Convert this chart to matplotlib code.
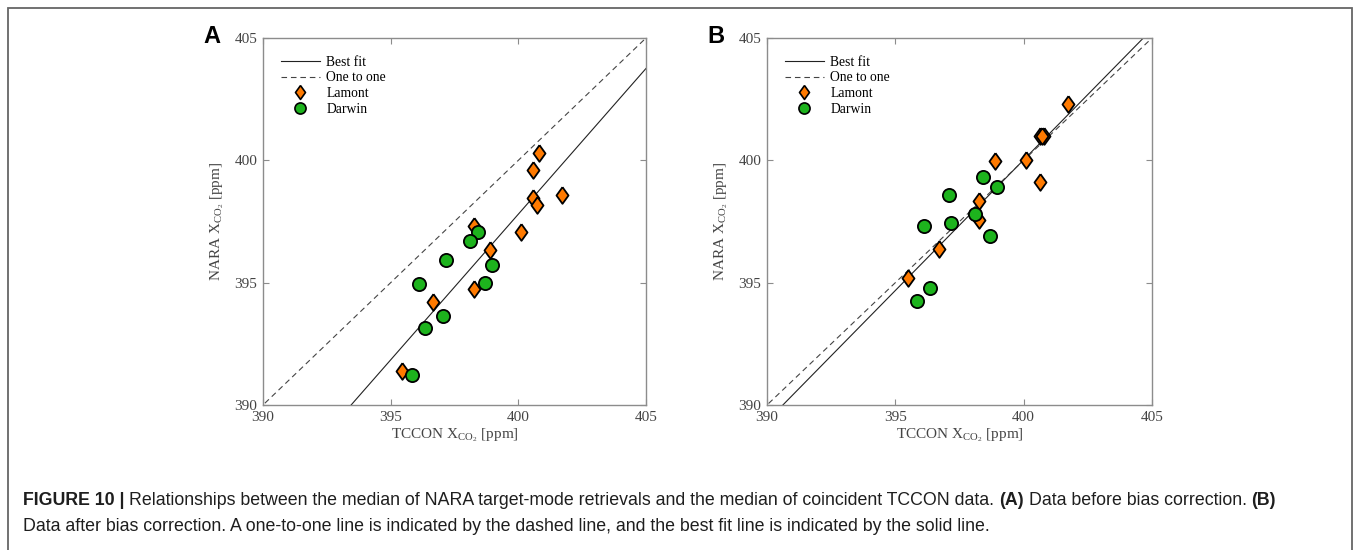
import numpy as np
import matplotlib
matplotlib.use("Agg")
import matplotlib.pyplot as plt
from matplotlib.patches import Rectangle
from matplotlib.lines import Line2D

# values (ppm)
lamont_a_x = [400.56, 400.80, 400.59, 400.72, 401.72, 398.26, 400.10, 398.88, 398.25, 396.66, 395.46]
lamont_a_y = [399.59, 400.30, 398.48, 398.17, 398.59, 397.30, 397.09, 396.33, 394.74, 394.21, 391.37]
darwin_a_x = [398.42, 398.11, 397.17, 398.97, 396.10, 398.69, 397.06, 396.36, 395.82]
darwin_a_y = [397.08, 396.69, 395.93, 395.72, 394.93, 394.97, 393.65, 393.13, 391.22]

lamont_b_x = [401.72, 400.62, 400.78, 398.90, 400.11, 400.62, 398.25, 398.25, 396.69, 395.49, 400.70]
lamont_b_y = [402.32, 400.99, 400.99, 399.99, 400.00, 399.13, 398.32, 397.55, 396.37, 395.19, 401.00]
darwin_b_x = [398.43, 398.96, 397.08, 398.12, 396.10, 397.15, 398.69, 396.36, 395.83]
darwin_b_y = [399.33, 398.91, 398.59, 397.80, 397.32, 397.44, 396.89, 394.77, 394.25]

# best fit lines (slope, intercept)
fit_a = (1.191, -78.60)
fit_b = (1.068, -27.18)

ticks = [390, 395, 400, 405]
legend_labels = ["Best fit", "One to one", "Lamont", "Darwin"]

plt.rcParams["mathtext.fontset"] = "custom"
plt.rcParams["mathtext.rm"] = "Liberation Serif"
plt.rcParams["mathtext.it"] = "Liberation Serif:italic"

serif = "Liberation Serif"
orange = "#ff7a00"
green = "#1db31d"
spine_col = "#8c8c8c"
tick_col = "#444444"
diamond = [(0, 1), (0.72, 0), (0, -1), (-0.72, 0), (0, 1)]

fig = plt.figure(figsize=(13.54, 5.5), dpi=100)

W, H = 1354, 550
panels = [
    ("A", 263, 646, lamont_a_x, lamont_a_y, darwin_a_x, darwin_a_y, fit_a),
    ("B", 767, 1152, lamont_b_x, lamont_b_y, darwin_b_x, darwin_b_y, fit_b),
]
for letter, x0, x1, lx, ly, dx, dy, fit in panels:
    ax = fig.add_axes([x0 / W, 1 - 405 / H, (x1 - x0) / W, (405 - 38) / H])
    xs = np.array([385, 410])
    ax.plot(xs, fit[0] * xs + fit[1], color="#222222", lw=0.8)
    ax.plot(xs, xs, color="#444444", lw=0.8, ls=(0, (5, 3.5)))
    ax.plot(lx, ly, ls="none", marker=diamond, ms=12, mfc=orange, mec="black", mew=1.3)
    ax.plot(dx, dy, ls="none", marker="o", ms=9.5, mfc=green, mec="black", mew=1.3)
    ax.set_xlim(390, 405)
    ax.set_ylim(390, 405)
    ax.set_xticks(ticks)
    ax.set_yticks(ticks)
    ax.tick_params(direction="in", top=True, right=True, length=4, width=0.8,
                   color=spine_col, labelcolor=tick_col, labelsize=11, pad=4)
    for lab in ax.get_xticklabels() + ax.get_yticklabels():
        lab.set_fontfamily(serif)
    for s in ax.spines.values():
        s.set_color(spine_col)
        s.set_linewidth(1.0)
    ax.set_xlabel(r"TCCON X$_{\mathrm{CO}_{\mathrm{2}}}$ [ppm]", fontfamily=serif,
                  fontsize=11, color=tick_col, labelpad=2)
    ax.set_ylabel(r"NARA X$_{\mathrm{CO}_{\mathrm{2}}}$ [ppm]", fontfamily=serif,
                  fontsize=11, color=tick_col, labelpad=6)
    handles = [
        Line2D([], [], color="#222222", lw=0.8),
        Line2D([], [], color="#444444", lw=0.8, ls=(0, (5, 3.5))),
        Line2D([], [], ls="none", marker=diamond, ms=10, mfc=orange, mec="black", mew=1.2),
        Line2D([], [], ls="none", marker="o", ms=8, mfc=green, mec="black", mew=1.2),
    ]
    ax.legend(handles, legend_labels, loc="upper left", frameon=False,
              prop={"family": serif, "size": 9.8}, handlelength=2.9,
              labelspacing=0.2, borderaxespad=0.6, handletextpad=0.45,
              borderpad=0.7)
    fig.text((x0 - 51) / W, 1 - 43 / H, letter, fontfamily="Liberation Sans",
             fontweight="bold", fontsize=17, ha="center", va="baseline")

# outer frame
fig.add_artist(Rectangle((7.5 / W, -0.1), (1352 - 7.5) / W, 1 - 8 / H + 0.1,
                         transform=fig.transFigure, fill=False,
                         edgecolor="#666666", lw=1.3))

# caption with bold runs
cap_col = "#1e1e1e"
cap_size = 12.8
line1 = [("FIGURE 10 |", "bold"),
         ("Relationships between the median of NARA target-mode retrievals and the median of coincident TCCON data.", "normal"),
         ("(A)", "bold"), ("Data before bias correction.", "normal"), ("(B)", "bold")]
line2 = [("Data after bias correction. A one-to-one line is indicated by the dashed line, and the best fit line is indicated by the solid line.", "normal")]

fig.canvas.draw()
renderer = fig.canvas.get_renderer()
probe1 = fig.text(0, 0, "a a", fontfamily="Liberation Sans", fontsize=cap_size)
probe2 = fig.text(0, 0, "aa", fontfamily="Liberation Sans", fontsize=cap_size)
space = probe1.get_window_extent(renderer).width - probe2.get_window_extent(renderer).width
probe1.remove()
probe2.remove()

for runs, base in [(line1, 505), (line2, 531)]:
    x = 23.0
    for txt, wt in runs:
        t = fig.text(x / W, 1 - base / H, txt, fontfamily="Liberation Sans",
                     fontweight=wt, fontsize=cap_size, color=cap_col, va="baseline")
        x += t.get_window_extent(renderer).width + space

fig.savefig("out.png", dpi=100)
